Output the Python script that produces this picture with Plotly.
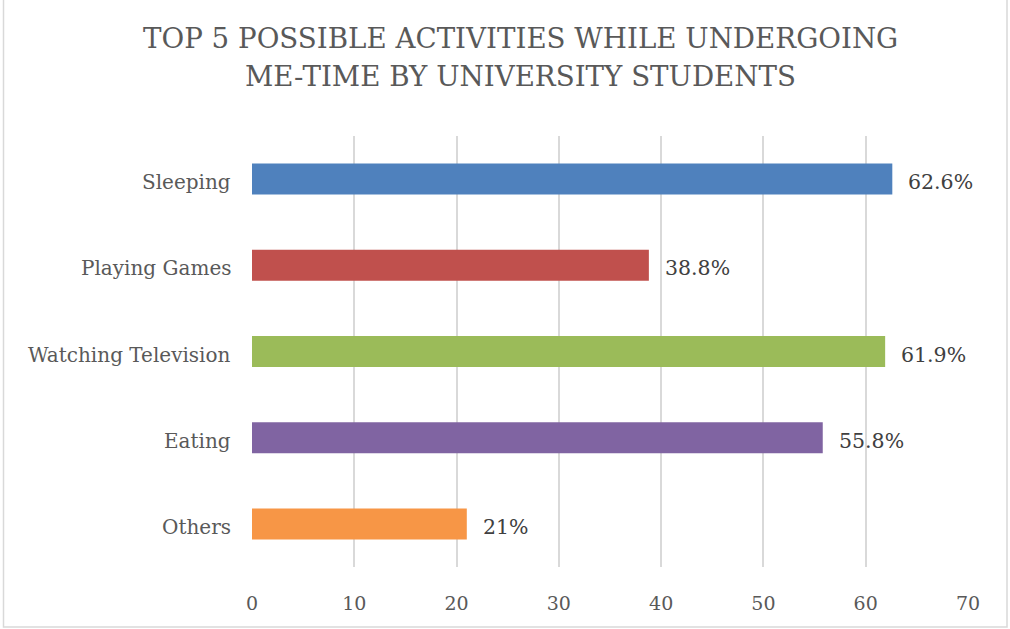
import plotly.graph_objects as go

# Survey results: share of students naming each activity
activities = ["Sleeping", "Playing Games", "Watching Television", "Eating", "Others"]
shares = [62.6, 38.8, 61.9, 55.8, 21]
share_labels = ["62.6%", "38.8%", "61.9%", "55.8%", "21%"]
bar_colors = ["#4F81BD", "#C0504D", "#9BBB59", "#8064A2", "#F79646"]
x_ticks = [0, 10, 20, 30, 40, 50, 60, 70]
title_lines = ["TOP 5 POSSIBLE ACTIVITIES WHILE UNDERGOING", "ME-TIME BY UNIVERSITY STUDENTS"]

W, H = 1010, 629
ML, MR, MT, MB = 252, 42, 136, 62
PW, PH = W - ML - MR, H - MT - MB

FONT = "DejaVu Serif"


def px_x(p):
    return (p - ML) / PW


def px_y(p):
    return (H - MB - p) / PH


fig = go.Figure(
    go.Bar(
        y=activities,
        x=shares,
        orientation="h",
        marker=dict(color=bar_colors, line=dict(width=0)),
        width=0.36,
        hoverinfo="skip",
    )
)

# value labels to the right of each bar
for cat, val, lab in zip(activities, shares, share_labels):
    fig.add_annotation(
        x=val, y=cat, text=lab, showarrow=False,
        xanchor="left", yanchor="middle", xshift=14, yshift=-3,
        font=dict(family=FONT, size=20.5, color="#404040"),
    )

# category names, right-aligned left of the axis
for cat in activities:
    fig.add_annotation(
        xref="paper", x=px_x(233), y=cat, text=cat, showarrow=False,
        xanchor="right", yanchor="middle", yshift=-3,
        font=dict(family=FONT, size=20, color="#595959"),
    )

# two-line heading
for line, yc in zip(title_lines, [38, 76]):
    fig.add_annotation(
        xref="paper", yref="paper", x=px_x(520), y=px_y(yc),
        text=line, showarrow=False, xanchor="center", yanchor="middle",
        font=dict(family=FONT, size=27.7, color="#595959"),
    )

# chart frame
fig.add_shape(
    type="rect", xref="paper", yref="paper",
    x0=px_x(3.5), x1=px_x(1007), y0=px_y(627), y1=px_y(-5),
    line=dict(color="#D9D9D9", width=1.5), fillcolor="rgba(0,0,0,0)",
    layer="below",
)

fig.update_layout(
    width=W, height=H,
    margin=dict(l=ML, r=MR, t=MT, b=MB, autoexpand=False),
    paper_bgcolor="white", plot_bgcolor="white",
    showlegend=False,
    xaxis=dict(
        range=[0, 70], tickvals=x_ticks, showgrid=True,
        gridcolor="#D9D9D9", gridwidth=2, zeroline=False,
        showline=False, ticks="", ticklabelstandoff=23,
        tickfont=dict(family=FONT, size=19, color="#595959"),
        fixedrange=True,
    ),
    yaxis=dict(
        autorange="reversed", showgrid=False, zeroline=False,
        showline=False, ticks="", showticklabels=False,
        fixedrange=True,
    ),
)

fig.write_html("out.html", config={"displayModeBar": False})
